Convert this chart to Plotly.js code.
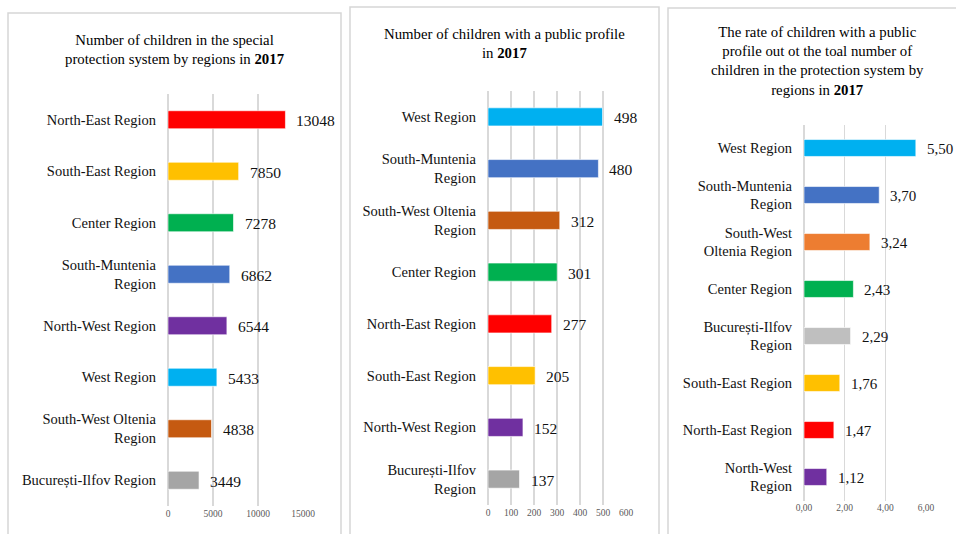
<!DOCTYPE html>
<html>
<head>
<meta charset="utf-8">
<script src="https://cdn.plot.ly/plotly-3.0.1.min.js"></script>
<style>
  html, body { margin: 0; padding: 0; background: #ffffff; }
  #chart { width: 956px; height: 534px; }
</style>
</head>
<body>
<div id="chart"></div>
<script>
// ---- Data: children in the special protection system, 2017 ----
const regionsTotal = ["North-East Region", "South-East Region", "Center Region", "South-Muntenia<br>Region",
  "North-West Region", "West Region", "South-West Oltenia<br>Region", "București-Ilfov Region"];
const keysTotal = ["NE", "SE", "C", "SM", "NW", "W", "SWO", "BI"];
const valuesTotal = [13048, 7850, 7278, 6862, 6544, 5433, 4838, 3449];

// ---- Children with a public profile, 2017 ----
const regionsPublic = ["West Region", "South-Muntenia<br>Region", "South-West Oltenia<br>Region", "Center Region",
  "North-East Region", "South-East Region", "North-West Region", "București-Ilfov<br>Region"];
const keysPublic = ["W", "SM", "SWO", "C", "NE", "SE", "NW", "BI"];
const valuesPublic = [498, 480, 312, 301, 277, 205, 152, 137];

// ---- Rate of children with a public profile (%), 2017 ----
const regionsRate = ["West Region", "South-Muntenia<br>Region", "South-West<br>Oltenia Region", "Center Region",
  "București-Ilfov<br>Region", "South-East Region", "North-East Region", "North-West<br>Region"];
const keysRate = ["W", "SM", "SWO", "C", "BI", "SE", "NE", "NW"];
const valuesRate = [5.50, 3.70, 3.24, 2.43, 2.29, 1.76, 1.47, 1.12];

// Axis tick values
const ticksTotal = [0, 5000, 10000, 15000];
const ticksPublic = [0, 100, 200, 300, 400, 500, 600];
const ticksRate = [0, 2, 4, 6];

// ---- Styling ----
const regionColors = {
  NE: "#FF0000", SE: "#FFC000", C: "#00B050", SM: "#4472C4",
  NW: "#7030A0", W: "#00B0F0", SWO: "#C55A11", BI: "#A5A5A5"
};
const rateColors = Object.assign({}, regionColors, { SWO: "#ED7D31", BI: "#BFBFBF" });

const W = 956, H = 534;
const px = v => v / W;          // horizontal pixel -> paper
const py = v => 1 - v / H;      // vertical pixel -> paper

const FONT = "'Liberation Serif', 'Times New Roman', serif";
const GRID = "#d9d9d9";
const comma = v => v.toFixed(2).replace(".", ",");

function xAxis(domainPx, range, ticks, fmt) {
  return {
    domain: [px(domainPx[0]), px(domainPx[1])],
    range: range, tickvals: ticks, ticktext: ticks.map(fmt),
    showgrid: true, gridcolor: GRID, gridwidth: 1.5,
    zeroline: true, zerolinecolor: GRID, zerolinewidth: 1.5,
    showline: false, ticks: "", fixedrange: true,
    tickfont: { family: FONT, size: 9.5, color: "#595959" }
  };
}
function yAxis(domainPx, anchor) {
  return {
    domain: [py(domainPx[1]), py(domainPx[0])],
    type: "category", autorange: "reversed", anchor: anchor,
    showgrid: false, zeroline: false, showline: false, ticks: "",
    ticklabelstandoff: 11, fixedrange: true,
    tickfont: { family: FONT, size: 14.5, color: "#111111" }
  };
}

function barTrace(labels, values, keys, palette, xa, ya, width) {
  return {
    type: "bar", orientation: "h", x: values, y: labels,
    xaxis: xa, yaxis: ya, width: width,
    marker: { color: keys.map(k => palette[k]), line: { color: "rgba(255,255,255,0.6)", width: 1 } },
    hoverinfo: "x+y", showlegend: false
  };
}

function valueLabels(labels, values, xref, yref, fmt, size) {
  return values.map((v, i) => ({
    x: v, y: labels[i], xref: xref, yref: yref, text: fmt(v),
    xanchor: "left", yanchor: "middle", xshift: 9, yshift: -1, showarrow: false,
    font: { family: FONT, size: size, color: "#111111" }
  }));
}

const data = [
  barTrace(regionsTotal, valuesTotal, keysTotal, regionColors, "x", "y", 0.35),
  barTrace(regionsPublic, valuesPublic, keysPublic, regionColors, "x2", "y2", 0.35),
  barTrace(regionsRate, valuesRate, keysRate, rateColors, "x3", "y3", 0.36)
];

const titleFont = { family: FONT, size: 14.8, color: "#000000" };
const titles = [
  { text: "Number of children in the special<br>protection system by regions in <b>2017</b>", x: px(175), y: py(49) },
  { text: "Number of children with a public profile<br>in <b>2017</b>", x: px(504), y: py(44) },
  { text: "The rate of children with a public<br>profile out ot the toal number of<br>children in the protection system by<br>regions in <b>2017</b>", x: px(817), y: py(61) }
].map(t => Object.assign({ xref: "paper", yref: "paper", xanchor: "center", yanchor: "middle",
  showarrow: false, font: titleFont, align: "center" }, t));

const annotations = titles
  .concat(valueLabels(regionsTotal, valuesTotal, "x", "y", v => String(v), 15.5))
  .concat(valueLabels(regionsPublic, valuesPublic, "x2", "y2", v => String(v), 15.5))
  .concat(valueLabels(regionsRate, valuesRate, "x3", "y3", comma, 15));

// Panel frames
const frame = (x0, y0, x1, y1) => ({
  type: "rect", xref: "paper", yref: "paper",
  x0: px(x0), x1: px(x1), y0: py(y1), y1: py(y0),
  line: { color: "#d6d6d6", width: 1.5 }, fillcolor: "rgba(0,0,0,0)", layer: "below"
});

const layout = {
  width: W, height: H,
  margin: { l: 0, r: 0, t: 0, b: 0 },
  paper_bgcolor: "#ffffff", plot_bgcolor: "rgba(0,0,0,0)",
  bargap: 0.65,
  xaxis: xAxis([168, 303], [0, 15000], ticksTotal, v => String(v)),
  yaxis: yAxis([94, 506], "x"),
  xaxis2: Object.assign(xAxis([488, 626], [0, 600], ticksPublic, v => String(v)), { anchor: "y2" }),
  yaxis2: yAxis([91, 505], "x2"),
  xaxis3: Object.assign(xAxis([804, 926], [0, 6], ticksRate, comma), { anchor: "y3" }),
  yaxis3: yAxis([124.5, 500.5], "x3"),
  annotations: annotations,
  shapes: [frame(8, 13, 341, 560), frame(350, 7, 659, 560), frame(668, 8, 990, 560)]
};
layout.xaxis.anchor = "y";

Plotly.newPlot("chart", data, layout, { displayModeBar: false, staticPlot: true });
</script>
</body>
</html>
